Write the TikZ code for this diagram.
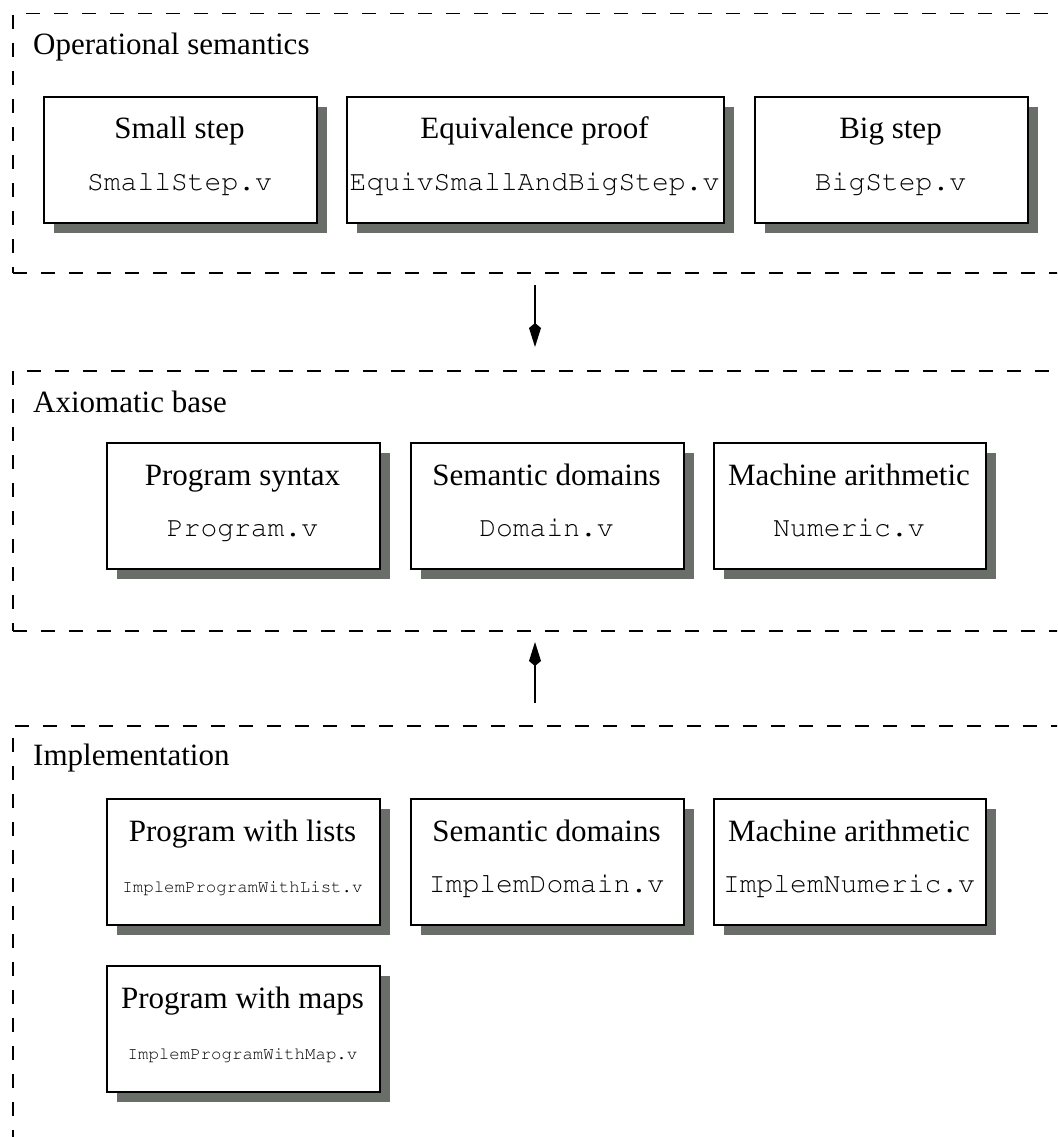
\documentclass[tikz,border=0pt]{standalone}
\usepackage{fontspec}
\setmainfont{Liberation Serif}
\usepackage{tikz}
\usetikzlibrary{arrows.meta, shadows}

\definecolor{shadowgray}{RGB}{106,110,104}
\newcommand\courierfont{\fontencoding{T1}\fontfamily{pcr}\selectfont}

\tikzset{
  layer/.style={draw, line width=1.5pt, dash pattern=on 14pt off 14pt, anchor=north west, inner sep=0pt},
  layertitle/.style={anchor=base west, inner sep=0pt, font=\fontsize{31}{36}\selectfont},
  modbox/.style={draw, line width=1.6pt, fill=white, anchor=north west, inner sep=0pt, minimum height=126pt,
    drop shadow={shadow xshift=10pt, shadow yshift=-10pt, fill=shadowgray, opacity=1}},
  modtitle/.style={anchor=base, inner sep=0pt, font=\fontsize{31}{36}\selectfont},
  fname/.style={anchor=base, inner sep=0pt, font=\courierfont\fontsize{28}{32}\selectfont},
  fnamesmall/.style={anchor=base, inner sep=0pt, font=\courierfont\fontsize{17.4}{20}\selectfont},
  dep/.style={-{Kite[length=24pt, width=12pt, inset=5pt]}, line width=1.5pt}
}

\begin{document}
\begin{tikzpicture}[x=1pt, y=-1pt]
    \useasboundingbox (0,0) rectangle (1057,1137);
    \clip (0,0) rectangle (1057,1137);

    % Layers (run off the right and bottom edge)
    \node[layer, minimum width=1200pt, minimum height=259pt] (opsem) at (12,13) {};
    \node[layer, minimum width=1200pt, minimum height=260pt] (axbase) at (12,370) {};
    \node[layer, minimum width=1200pt, minimum height=500pt] (implem) at (12,725) {};

    \node[layertitle] (opsem-title) at (33,55) {Operational semantics};
    \node[layertitle] (axbase-title) at (33,412) {Axiomatic base};
    \node[layertitle] (implem-title) at (33,765) {Implementation};

    % Modules
    \foreach \nm/\mx/\my/\mw/\mtitle/\mfile/\mstyle in {
        small/43/96/273/Small step/SmallStep.v/fname,
        equiv/346/96/377/Equivalence proof/EquivSmallAndBigStep.v/fname,
        big/754/96/273/Big step/BigStep.v/fname,
        prog/106/442/273/Program syntax/Program.v/fname,
        dom/410/442/273/Semantic domains/Domain.v/fname,
        num/713/442/272/Machine arithmetic/Numeric.v/fname,
        proglist/106/798/273/Program with lists/ImplemProgramWithList.v/fnamesmall,
        impdom/410/798/273/Semantic domains/ImplemDomain.v/fname,
        impnum/713/798/272/Machine arithmetic/ImplemNumeric.v/fname,
        progmap/106/965/273/Program with maps/ImplemProgramWithMap.v/fnamesmall} {
        \node[modbox, minimum width=\mw pt] (\nm) at (\mx,\my) {};
        \node[modtitle] (\nm-title) at ({\mx+\mw/2},{\my+43}) {\mtitle};
        \node[\mstyle] (\nm-file) at ({\mx+\mw/2},{\my+94}) {\mfile};
    }

    % Dependencies
    \coordinate (down-from) at (535,285);
    \coordinate (down-to) at (535,347);
    \coordinate (up-from) at (535,703);
    \coordinate (up-to) at (535,642);
    \draw[dep] (down-from) -- (down-to);
    \draw[dep] (up-from) -- (up-to);
\end{tikzpicture}
\end{document}
